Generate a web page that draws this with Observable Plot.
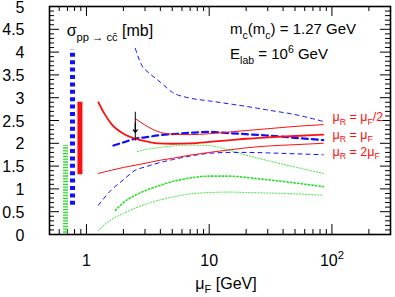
<!DOCTYPE html>
<html><head><meta charset="utf-8">
<script src="https://cdn.jsdelivr.net/npm/d3@7"></script>
<script src="https://cdn.jsdelivr.net/npm/@observablehq/plot@0.6"></script>
<style>
body{margin:0;background:#fff;}
svg{font-family:"Liberation Sans",Arial,Helvetica,sans-serif;}
</style>
</head><body>
<div id="chart"></div>
<script>
// ---- data ----
// red: mu_R variations (thick = mu_R = mu_F)
const redCentralMu = [1.25,1.4,1.6,2,2.5,3,3.8,5,7,10,15,20,30,50,85];
const redCentralV  = [2.90,2.65,2.42,2.21,2.10,2.05,2.00,1.99,2.00,2.03,2.07,2.10,2.13,2.16,2.19];
const redHalfMu = [2.5,3,4,5,7,10,15,20,30,50,85];
const redHalfV  = [2.54,2.40,2.24,2.20,2.19,2.21,2.25,2.28,2.32,2.37,2.41];
const redDoubleMu = [1.25,1.6,2,2.5,3,4,5,7,10,15,20,30,50,85];
const redDoubleV  = [1.34,1.41,1.47,1.52,1.56,1.63,1.67,1.74,1.80,1.86,1.90,1.94,1.97,2.00];
// blue dashed
const blueCentralMu = [1.66,2,2.5,3,4,5,7,10,15,20,30,50,85];
const blueCentralV  = [1.95,2.02,2.10,2.13,2.18,2.20,2.23,2.25,2.22,2.20,2.17,2.12,2.07];
const blueUpperMu = [2.5,2.9,3,4,5,7,10,15,20,30,50,85];
const blueUpperV  = [4.08,3.66,3.62,3.34,3.12,2.99,2.93,2.86,2.81,2.73,2.63,2.48];
const blueLowerMu = [1.25,1.6,2,2.5,3,4,5,7,10,15,20,30,50,85];
const blueLowerV  = [0.64,0.98,1.20,1.41,1.48,1.58,1.64,1.72,1.78,1.80,1.80,1.79,1.77,1.75];
// green dotted
const greenUpperMu = [2.6,3,4,5,7,10,15,20,30,50,85];
const greenUpperV  = [1.82,1.86,1.91,1.94,1.96,1.95,1.84,1.74,1.62,1.48,1.34];
const greenCentralMu = [1.72,2,2.5,3,4,5,7,10,15,20,30,50,85];
const greenCentralV  = [0.53,0.70,0.86,0.96,1.08,1.16,1.24,1.28,1.28,1.25,1.20,1.13,1.05];
const greenLowerMu = [1.25,1.6,2,2.5,3,4,5,7,10,15,20,30,50,85];
const greenLowerV  = [0.09,0.33,0.46,0.58,0.66,0.76,0.82,0.89,0.92,0.93,0.92,0.91,0.89,0.86];
// vertical bands at the left
const bandMu = [0.675,0.77,0.885];
const bandLo = [0.03,0.64,1.31];
const bandHi = [1.95,4.05,2.90];
// tick labels and texts
const yTickLabels = [0,0.5,1,1.5,2,2.5,3,3.5,4,4.5,5];
const xTickLabels = [1,10,100];
const scaleLabels = ["μ_{R} = μ_{F}/2","μ_{R} = μ_{F}","μ_{R} = 2μ_{F}"];
const sigmaLabel = "σ_{pp → cc̄} [mb]";
const massLabel = "m_{c}(m_{c}) = 1.27 GeV";
const energyLabel = "E_{lab} = 10^{6} GeV";
const xTitle = "μ_{F} [GeV]";

const rows = (mu, v) => mu.map((m, i) => ({mu: m, v: v[i]}));
const bands = bandMu.map((m, i) => ({mu: m, lo: bandLo[i], hi: bandHi[i]}));

const RED = "#ff1010", BLUE = "#1010ff", GREEN = "#22e022";

const W = 395, H = 297, ML = 49, MR = 5, MT = 6, MB = 63;
const FW = W - ML - MR, FH = H - MT - MB;

const xMajor = [1,10,100];
const xMinor = [0.6,0.7,0.8,0.9,2,3,4,5,6,7,8,9,20,30,40,50,60,70,80,90,200];
const yMajor = d3.range(1,10).map(i => i*0.5);
const yMinor = d3.range(1,50).filter(i => i % 5 !== 0).map(i => i/10);

const line = (mu, v, stroke, sw, dash) => Plot.line(rows(mu, v), {x:"mu", y:"v", stroke, strokeWidth: sw, strokeDasharray: dash, curve:"monotone-x"});

const chart = Plot.plot({
  width: W, height: H,
  marginLeft: ML, marginRight: MR, marginTop: MT, marginBottom: MB,
  style: {fontSize: "15px", fontFamily: "Liberation Sans, Arial, sans-serif", background: "#fff"},
  x: {type: "log", domain: [0.5, 300]},
  y: {domain: [0, 5]},
  marks: [
    // ticks (inward, all four sides)
    Plot.tickX(xMajor, {x: d => d, insetTop: FH - 10, stroke: "black"}),
    Plot.tickX(xMinor, {x: d => d, insetTop: FH - 5, stroke: "black"}),
    Plot.tickX(xMajor, {x: d => d, insetBottom: FH - 10, stroke: "black"}),
    Plot.tickX(xMinor, {x: d => d, insetBottom: FH - 5, stroke: "black"}),
    Plot.tickY(yMajor, {y: d => d, insetRight: FW - 10, stroke: "black"}),
    Plot.tickY(yMinor, {y: d => d, insetRight: FW - 5, stroke: "black"}),
    Plot.tickY(yMajor, {y: d => d, insetLeft: FW - 10, stroke: "black"}),
    Plot.tickY(yMinor, {y: d => d, insetLeft: FW - 5, stroke: "black"}),
    Plot.axisY(yTickLabels, {anchor: "left", tickSize: 0, tickPadding: 25, fontSize: 16, dy: 1, tickFormat: d => String(d), label: null}),
    Plot.axisX(xTickLabels, {anchor: "bottom", tickSize: 0, tickPadding: 20, fontSize: 16, tickFormat: d => d === 100 ? "10^{2}" : String(d), label: null}),
    // bands
    Plot.ruleX([bands[0]], {x: "mu", y1: "lo", y2: "hi", stroke: GREEN, strokeWidth: 5, strokeDasharray: "1.3,1.5"}),
    Plot.ruleX([bands[1]], {x: "mu", y1: "lo", y2: "hi", stroke: BLUE, strokeWidth: 5, strokeDasharray: "4,3.4"}),
    Plot.ruleX([bands[2]], {x: "mu", y1: "lo", y2: "hi", stroke: RED, strokeWidth: 5}),
    // curves
    line(greenUpperMu, greenUpperV, GREEN, 1, "1,2"),
    line(greenLowerMu, greenLowerV, GREEN, 1, "1,2"),
    line(greenCentralMu, greenCentralV, GREEN, 1.6, "1.3,2.3"),
    line(blueUpperMu, blueUpperV, BLUE, 1, "4,4"),
    line(blueLowerMu, blueLowerV, BLUE, 1, "4,4"),
    line(blueCentralMu, blueCentralV, BLUE, 2.2, "6,4"),
    line(redHalfMu, redHalfV, RED, 1, null),
    line(redDoubleMu, redDoubleV, RED, 1, null),
    line(redCentralMu, redCentralV, RED, 1.8, null),
    // arrow
    Plot.ruleX([2.5], {y1: 2.68, y2: 2.05, stroke: "black", strokeWidth: 1}),
    Plot.arrow([0], {x1: 2.5, x2: 2.5, y1: 2.45, y2: 2.24, stroke: "black", strokeWidth: 1.2, headLength: 9, headAngle: 80}),
    // texts
    Plot.text(scaleLabels, {x: 101, y: (d, i) => [2.57, 2.19, 1.82][i], text: d => d, textAnchor: "start", fill: RED, fontSize: 12.5}),
    Plot.text([sigmaLabel], {x: 0.69, y: 4.47, text: d => d, textAnchor: "start", fontSize: 16}),
    Plot.text([massLabel], {x: 14.8, y: 4.5, text: d => d, textAnchor: "start", fontSize: 15}),
    Plot.text([energyLabel], {x: 14.8, y: 3.95, text: d => d, textAnchor: "start", fontSize: 15}),
    Plot.text([xTitle], {frameAnchor: "bottom", dx: 6, dy: 54, text: d => d, fontSize: 16}),
    Plot.frame({stroke: "black", strokeWidth: 1.6})
  ]
});
document.getElementById("chart").appendChild(chart);

// sub/superscripts as real tspans
function richify(svg) {
  svg.querySelectorAll("text").forEach(t => {
    const s = t.textContent;
    if (!/[_^]\{/.test(s)) return;
    const fs = parseFloat(getComputedStyle(t).fontSize) || 14;
    while (t.firstChild) t.removeChild(t.firstChild);
    const re = /([_^])\{([^}]*)\}/g;
    let last = 0, m, shift = 0;
    const add = (txt, kind) => {
      if (!txt) return;
      const ts = document.createElementNS("http://www.w3.org/2000/svg", "tspan");
      const target = kind === "_" ? fs * 0.3 : kind === "^" ? -fs * 0.42 : 0;
      if (target - shift !== 0) ts.setAttribute("dy", (target - shift).toFixed(2));
      shift = target;
      if (kind) ts.setAttribute("font-size", (fs * 0.7).toFixed(1));
      ts.textContent = txt;
      t.appendChild(ts);
    };
    while ((m = re.exec(s))) { add(s.slice(last, m.index), null); add(m[2], m[1]); last = re.lastIndex; }
    add(s.slice(last), null);
  });
}
richify(chart);
</script>
</body></html>
